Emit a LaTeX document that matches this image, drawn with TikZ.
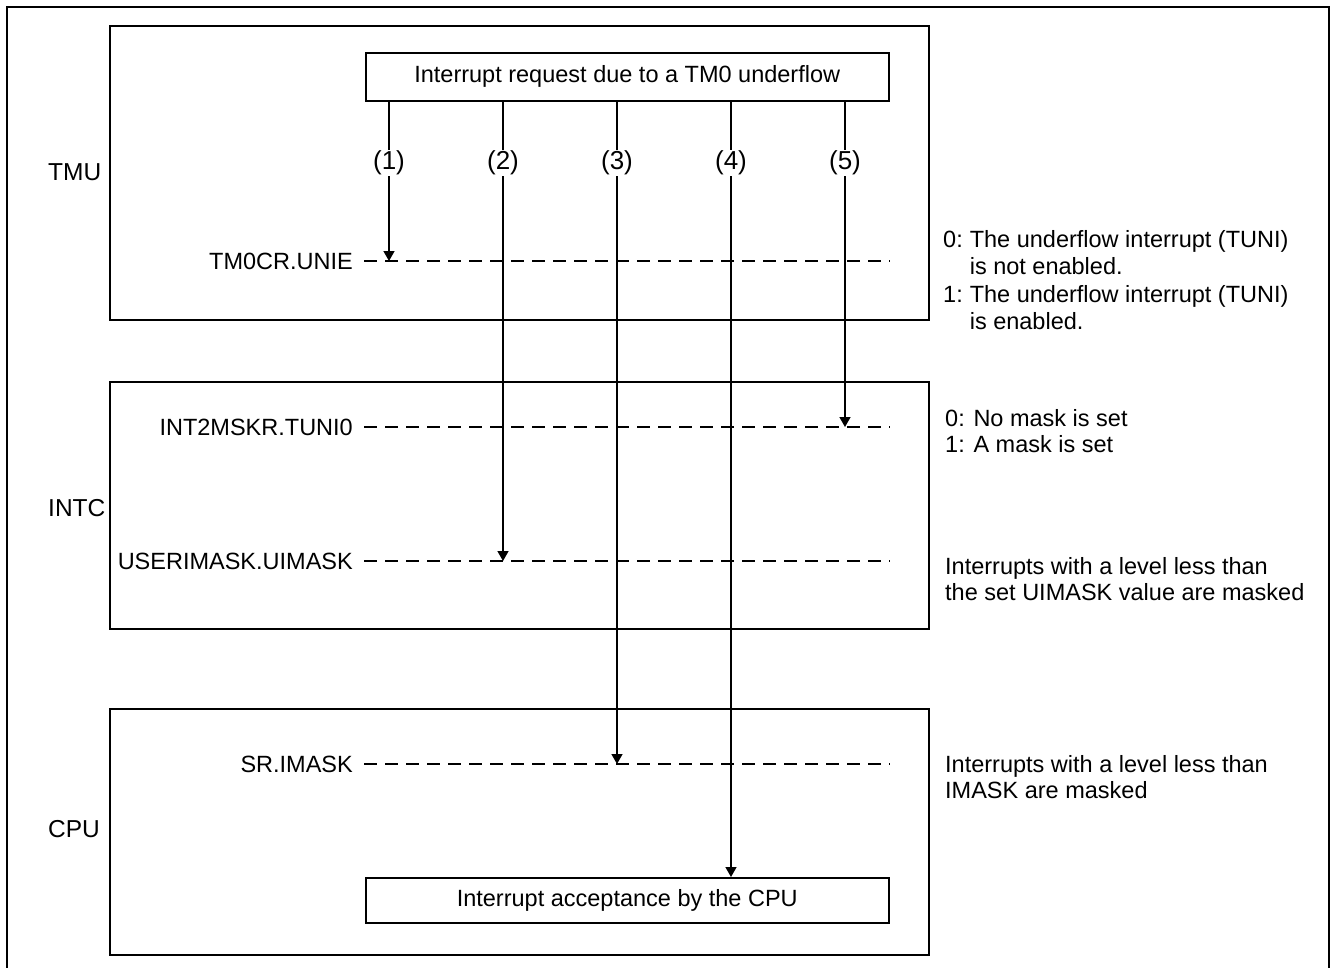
\documentclass[tikz,border=0pt]{standalone}
\usepackage{fontspec}
\setmainfont{Liberation Sans}
\usetikzlibrary{arrows.meta}
\begin{document}
\begin{tikzpicture}[x=1pt,y=-1pt,
  font=\fontsize{23.5}{26.5}\selectfont,
  unitframe/.style={draw, line width=1.5pt, anchor=north west, inner sep=0pt},
  eventbox/.style={draw, line width=1.5pt, anchor=north west, inner sep=0pt,
    minimum width=523pt},
  unitname/.style={anchor=west, inner sep=0pt, font=\fontsize{24.5}{29}\selectfont},
  regname/.style={anchor=east, inner sep=0pt},
  regline/.style={line width=1.8pt, dash pattern=on 13pt off 8pt},
  flow/.style={line width=1.4pt, -{Triangle[width=11pt,length=10pt]}},
  num/.style={fill=white, inner sep=1pt, font=\fontsize{26}{30}\selectfont},
  note/.style={anchor=base west, inner sep=0pt},
]
\useasboundingbox (0,0) rectangle (1330,967);
\draw[line width=2.5pt] (7,7) rectangle (1329,995);

% unit frames
\node[unitframe, minimum width=819pt, minimum height=294pt] (tmu) at (109,25) {};
\node[unitframe, minimum width=819pt, minimum height=247pt] (intc) at (109,381) {};
\node[unitframe, minimum width=819pt, minimum height=246pt] (cpu) at (109,708) {};

\node[unitname] (tmulbl) at (48,172) {TMU};
\node[unitname] (intclbl) at (48,508) {INTC};
\node[unitname] (cpulbl) at (48,829) {CPU};

% event boxes
\node[eventbox, minimum height=48pt] (req) at (365,52) {Interrupt request due to a TM0 underflow};
\node[eventbox, minimum height=45pt] (acc) at (365,877) {Interrupt acceptance by the CPU};

% register bits
\node[regname] (unie) at (353,261) {TM0CR.UNIE};
\node[regname] (tuni) at (353,427) {INT2MSKR.TUNI0};
\node[regname] (uimask) at (353,561) {USERIMASK.UIMASK};
\node[regname] (imask) at (353,764) {SR.IMASK};

\foreach \r in {unie,tuni,uimask,imask}
  \draw[regline] ([xshift=11pt]\r.east) -- (\r.east -| req.east);

% request paths
\coordinate (p1) at (389,0);
\coordinate (p2) at (503,0);
\coordinate (p3) at (617,0);
\coordinate (p4) at (731,0);
\coordinate (p5) at (845,0);

\draw[flow] (req.south -| p1) -- (unie.east -| p1);
\draw[flow] (req.south -| p2) -- (uimask.east -| p2);
\draw[flow] (req.south -| p3) -- (imask.east -| p3);
\draw[flow] (req.south -| p4) -- (acc.north -| p4);
\draw[flow] (req.south -| p5) -- (tuni.east -| p5);

\node[num] (n1) at (389,163) {(1)};
\node[num] (n2) at (503,163) {(2)};
\node[num] (n3) at (617,163) {(3)};
\node[num] (n4) at (731,163) {(4)};
\node[num] (n5) at (845,163) {(5)};

% setting descriptions
\node[note] (unienote) at (943,247) {\fontsize{23.5}{27.5}\selectfont
  \begin{tabular}[t]{@{}l@{\hspace{7pt}}l@{}}
  0: & The underflow interrupt (TUNI)\\
     & is not enabled.\\
  1: & The underflow interrupt (TUNI)\\
     & is enabled.
  \end{tabular}};
\node[note] (tuninote) at (945,426) {\begin{tabular}[t]{@{}l@{}}
  0: No mask is set\\
  1: A mask is set
  \end{tabular}};
\node[note] (uimasknote) at (945,574) {\begin{tabular}[t]{@{}l@{}}
  Interrupts with a level less than\\
  the set UIMASK value are masked
  \end{tabular}};
\node[note] (imasknote) at (945,772) {\begin{tabular}[t]{@{}l@{}}
  Interrupts with a level less than\\
  IMASK are masked
  \end{tabular}};
\end{tikzpicture}
\end{document}
